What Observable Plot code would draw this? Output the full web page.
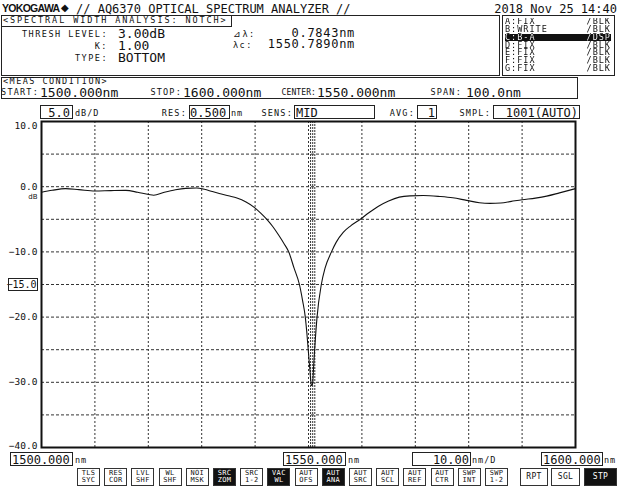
<!DOCTYPE html>
<html><head><meta charset="utf-8">
<script src="https://cdn.jsdelivr.net/npm/d3@7"></script>
<script src="https://cdn.jsdelivr.net/npm/@observablehq/plot@0.6"></script>
<style>
body{margin:0;background:#fff;}
#page{position:relative;width:620px;height:487px;overflow:hidden;font-family:"DejaVu Sans Mono",monospace;color:#111;background:#fff;}
.t{position:absolute;white-space:pre;line-height:0.85;}
.b{position:absolute;border:1px solid #222;box-sizing:border-box;}
.btn{position:absolute;border:1px solid #333;box-sizing:border-box;font-size:7px;line-height:7px;text-align:center;letter-spacing:0.3px;padding-top:1px;}
.btn.k{background:#111;color:#fff;}
#chart{position:absolute;left:0;top:100px;}
.col{position:absolute;white-space:pre;font-size:8.5px;line-height:7.83px;letter-spacing:1px;top:18.14px;color:transparent;
  background:linear-gradient(to bottom,#111 0px,#111 16.2px,#fff 16.2px,#fff 23.4px,#111 23.4px,#111 100px);
  -webkit-background-clip:text;background-clip:text;}
</style></head>
<body><div id="page"><div id="chart"></div></div>
<script>
// ---- data ----
const wavelength = [1500.0,1502.0,1504.5,1507.0,1510.0,1513.0,1515.8,1518.0,1520.1,1521.0,1523.0,1525.1,1527.0,1529.0,1530.5,1532.0,1533.5,1535.0,1536.6,1538.3,1539.9,1541.0,1542.2,1543.3,1544.4,1545.4,1546.3,1547.3,1548.3,1548.9,1549.4,1549.7,1549.95,1550.25,1550.55,1550.75,1551.0,1551.15,1551.6,1552.4,1553.1,1554.3,1555.2,1556.5,1557.9,1559.7,1561.3,1563.1,1565.0,1567.0,1569.0,1571.5,1574.6,1577.0,1579.6,1582.0,1584.0,1586.0,1588.0,1590.0,1592.5,1594.6,1597.0,1600.0];
const levelDb = [-0.85,-0.55,-0.3,-0.45,-0.65,-0.6,-0.57,-0.85,-1.2,-1.3,-0.85,-0.46,-0.25,-0.2,-0.4,-0.75,-1.08,-1.4,-1.74,-2.35,-3.2,-4.0,-5.0,-6.1,-7.4,-8.7,-10.0,-12.5,-15.0,-17.5,-20.0,-22.5,-25.0,-28.0,-30.5,-30.3,-27.0,-25.0,-20.0,-15.0,-12.5,-10.0,-8.5,-7.0,-6.0,-5.0,-4.0,-3.0,-2.2,-1.6,-1.4,-1.35,-1.5,-1.7,-2.1,-2.45,-2.55,-2.5,-2.25,-2.0,-1.75,-1.45,-0.95,-0.3];
const markerNm = [1550.39, 1550.79, 1551.18];
const xGrid = [1510,1520,1530,1540,1550,1560,1570,1580,1590];
const yGrid = [5,0,-5,-10,-15,-20,-25,-30,-35];
const yLabels = [10,0,-10,-20,-30,-40];
const refLevel = -15;
const traceNames = ["A:FIX","B:WRITE","C:B-A","D:FIX","E:FIX","F:FIX","G:FIX"];
const traceModes = ["/BLK","/BLK","/DSP","/BLK","/BLK","/BLK","/BLK"];
const analysisLabels = ["THRESH LEVEL:","K:","TYPE:"];
const analysisValues = ["3.00dB","1.00","BOTTOM"];
const resultLabels = ["\u22BF\u03BB:","\u03BBc:"];
const resultValues = ["0.7843nm","1550.7890nm"];

const trace = wavelength.map((w,i)=>({w, db: levelDb[i]}));
const mono = "DejaVu Sans Mono";
const fmt = d3.format(".1f");

const chart = Plot.plot({
  width: 620, height: 370,
  marginTop: 21, marginBottom: 23, marginLeft: 41, marginRight: 45,
  x: {domain: [1500,1600], axis: null},
  y: {domain: [-40,10], axis: null},
  style: {background: "transparent"},
  marks: [
    Plot.gridX(xGrid, {stroke: "#333", strokeOpacity: 1, strokeDasharray: "2,2", strokeWidth: 1}),
    Plot.gridY(yGrid, {stroke: "#333", strokeOpacity: 1, strokeDasharray: "3,2", strokeWidth: 1}),
    Plot.ruleX(markerNm, {stroke: "#333", strokeDasharray: "2,1", strokeWidth: 1}),
    Plot.line(trace, {x: "w", y: "db", stroke: "#111", strokeWidth: 1.1, curve: "monotone-x"}),
    Plot.frame({stroke: "#111", strokeWidth: 2}),
    Plot.text(yLabels.filter(d => d < 10 && d > -40), {x: 1500, y: d => d, text: fmt, textAnchor: "end", dx: -4, fontFamily: mono, fontSize: 9.5, fill: "#111"}),
    Plot.text(yLabels.filter(d => d === 10), {x: 1500, y: d => d, text: fmt, textAnchor: "end", dx: -4, dy: 4, fontFamily: mono, fontSize: 9.5, fill: "#111"}),
    Plot.text(yLabels.filter(d => d === -40), {x: 1500, y: d => d, text: fmt, textAnchor: "end", dx: -4, dy: -2, fontFamily: mono, fontSize: 9.5, fill: "#111"}),
    Plot.text(["dB"], {x: 1500, y: 0, text: d => d, textAnchor: "end", dx: -4, dy: 10, fontFamily: "DejaVu Sans", fontSize: 7, fill: "#111"}),
    Plot.text([refLevel], {x: 1500, y: d => d, text: fmt, textAnchor: "end", dx: -5, fontFamily: mono, fontSize: 10, fill: "#111"})
  ]
});
document.getElementById("chart").appendChild(chart);

// ---- instrument screen text ----
const page = document.getElementById("page");
function put(txt, x, base, fs, opts = {}) {
  const d = document.createElement("div");
  d.className = "t";
  d.textContent = txt;
  d.style.fontSize = fs + "px";
  d.style.top = (base - 0.771 * fs) + "px";
  if (opts.right) d.style.right = (620 - x) + "px"; else d.style.left = x + "px";
  if (opts.ls !== undefined) d.style.letterSpacing = opts.ls + "px";
  if (opts.ff) d.style.fontFamily = opts.ff;
  if (opts.fw) d.style.fontWeight = opts.fw;
  if (opts.color) d.style.color = opts.color;
  page.appendChild(d);
  return d;
}
// several lines in one text block, line pitch L, first baseline at base
function putLines(lines, x, base, fs, L, opts = {}) {
  const d = put(lines.join("\n"), x, base, fs, opts);
  d.style.lineHeight = L + "px";
  d.style.top = (base - ((L - 1.164 * fs) / 2 + 0.928 * fs)) + "px";
  if (opts.right) d.style.textAlign = "right";
  return d;
}
function box(x1, y1, x2, y2, cls = "b") {
  const d = document.createElement("div");
  d.className = cls;
  Object.assign(d.style, {left: x1 + "px", top: y1 + "px", width: (x2 - x1) + "px", height: (y2 - y1) + "px"});
  page.appendChild(d);
  return d;
}
const S = 8.5, SL = 1.2; // small label font
// title row
put("YOKOGAWA", 2, 12, 10.5, {ff: "Liberation Sans", fw: "bold", ls: -0.7});
put("\u25C6", 61, 12, 10, {ff: "DejaVu Sans"});
put("// AQ6370 OPTICAL SPECTRUM ANALYZER //", 76, 13, 12);
put("2018 Nov 25 14:40", 617, 13, 12, {right: true});
// spectral width box
box(1, 15, 500, 76);
box(1, 15, 232, 27);
put("<SPECTRAL WIDTH ANALYSIS: NOTCH>", 3, 24, S, {ls: 1.9});
putLines(analysisLabels, 108, 37, S, 12, {right: true, ls: 1.5});
putLines(analysisValues, 118, 38, 13, 12);
putLines(resultLabels, 233, 37, S, 11, {ls: 1.5});
putLines(resultValues, 355, 37.5, 12, 11, {right: true, ls: 0.7});
// trace box
box(502, 15, 615, 76);
const hl = box(505, 34.3, 611, 41.5, "b"); hl.style.background = "#111"; hl.style.border = "none";
const colL = document.createElement("div"); colL.className = "col"; colL.style.left = "505px";
colL.textContent = traceNames.join("\n"); page.appendChild(colL);
const colR = document.createElement("div"); colR.className = "col"; colR.style.right = (620 - 611) + "px"; colR.style.textAlign = "right";
colR.textContent = traceModes.join("\n"); page.appendChild(colR);
// meas condition
box(1, 77, 578, 99);
put("<MEAS CONDITION>", 3, 85, S, {ls: 1.45});
put("START:", 39, 96, S, {right: true, ls: SL});
put("1500.000nm", 40, 97, 13);
put("STOP:", 182, 96, S, {right: true, ls: SL});
put("1600.000nm", 183, 97, 13);
put("CENTER:", 316, 96, 8, {right: true, ls: 0.1});
put("1550.000nm", 317, 97, 13);
put("SPAN:", 462, 96, S, {right: true, ls: SL});
put("100.0nm", 466, 97, 13);
// settings row
box(40, 105, 73, 119); put("5.0", 70, 117, 12, {right: true});
put("dB/D", 75, 117, S, {ls: 1});
put("RES:", 187, 117, S, {right: true, ls: SL});
box(189, 105, 230, 119); put("0.500", 190, 117, 12);
put("nm", 231, 117, S, {ls: 1});
put("SENS:", 293, 117, S, {right: true, ls: SL});
box(294, 105, 375, 119); put("MID", 296, 117, 12);
put("AVG:", 415, 117, S, {right: true, ls: SL});
box(417, 105, 437, 119); put("1", 435, 117, 12, {right: true});
put("SMPL:", 491, 117, S, {right: true, ls: SL});
box(493, 105, 580, 119); put("1001(AUTO)", 578, 117, 12, {right: true});
// ref level box
box(8, 278, 38, 291);
// bottom row
box(10, 452, 73, 466); put("1500.000", 12, 464, 12);
put("nm", 75, 464, S, {ls: 1});
box(283, 452, 346, 466); put("1550.000", 285, 464, 12);
put("nm", 348, 464, S, {ls: 1});
box(412, 452, 471, 466); put("10.00", 469, 464, 12, {right: true});
put("nm/D", 472, 464, S, {ls: 1});
box(541, 452, 603, 466); put("1600.000", 543, 464, 12);
put("nm", 604, 464, S, {ls: 1});
// soft keys
const keys = [["TLS","SYC",0],["RES","COR",0],["LVL","SHF",0],["WL","SHF",0],["NOI","MSK",0],["SRC","ZOM",1],["SRC","1-2",0],["VAC","WL",1],["AUT","OFS",0],["AUT","ANA",1],["AUT","SRC",0],["AUT","SCL",0],["AUT","REF",0],["AUT","CTR",0],["SWP","INT",0],["SWP","1-2",0]];
keys.forEach((k, i) => {
  const x = 77 + i * 27.2;
  const d = box(x, 468, x + 23, 486, k[2] ? "btn k" : "btn");
  d.innerHTML = k[0] + "<br>" + k[1];
});
[["RPT",520,548,0],["SGL",551,580,0],["STP",584,617,1]].forEach(k => {
  const d = box(k[1], 468, k[2], 486, k[3] ? "btn k" : "btn");
  d.style.fontSize = "8px"; d.style.lineHeight = "16px"; d.style.paddingTop = "0";
  d.textContent = k[0];
});
</script></body></html>
